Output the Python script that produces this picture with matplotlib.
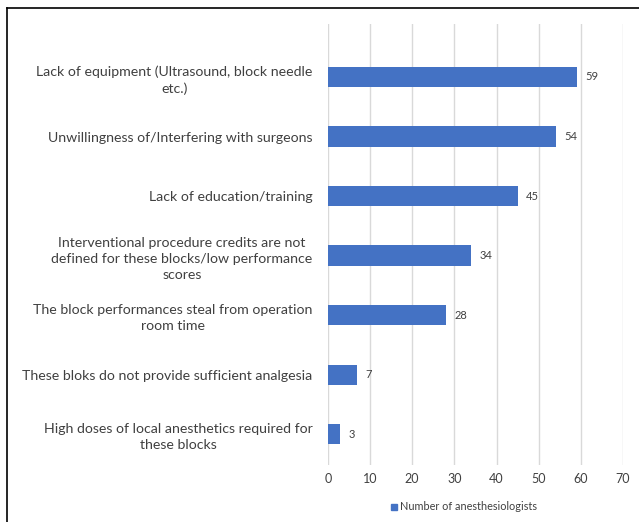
import matplotlib.pyplot as plt
from matplotlib.patches import Rectangle

# Barreras para el uso de bloqueos (número de anestesiólogos)
categories = [
    "Lack of equipment (Ultrasound, block needle\netc.)",
    "Unwillingness of/Interfering with surgeons",
    "Lack of education/training",
    "Interventional procedure credits are not\ndefined for these blocks/low performance\nscores",
    "The block performances steal from operation\nroom time",
    "These bloks do not provide sufficient analgesia",
    "High doses of local anesthetics required for\nthese blocks",
]
counts = [59, 54, 45, 34, 28, 7, 3]
xticks = [0, 10, 20, 30, 40, 50, 60, 70]

BAR = "#4472C4"
TXT = "#404040"
plt.rcParams['font.family'] = ['Lato', 'DejaVu Sans']

fig = plt.figure(figsize=(6.39, 5.22), dpi=100)
fig.patch.set_facecolor('white')
ax = fig.add_axes([0.513, 0.109, 0.462, 0.845])

ypos = list(range(len(categories)))
ax.barh(ypos, counts, height=0.34, color=BAR, zorder=3)

for y, v in zip(ypos, counts):
    ax.text(v + 2.0, y, str(v), va='center', ha='left', fontsize=8, color=TXT)

ax.set_xlim(0, 70)
ax.set_ylim(6.52, -0.89)
ax.set_xticks(xticks)
ax.set_xticklabels([str(t) for t in xticks], fontsize=9, color=TXT)
ax.set_yticks(ypos)
ax.set_yticklabels(categories, fontsize=10.2, color=TXT, ha='right')
for lab in ax.get_yticklabels():
    lab.set_multialignment('center')
    lab.set_linespacing(1.4)
ax.tick_params(axis='y', length=0, pad=11)
ax.tick_params(axis='x', length=0, pad=6)
ax.grid(axis='x', color='#D9D9D9', linewidth=1.0, zorder=0)
for s in ax.spines.values():
    s.set_visible(False)

# leyenda abajo
fig.patches.append(Rectangle((391 / 639, 1 - 510 / 522), 6 / 639, 6 / 522,
                             transform=fig.transFigure, color=BAR))
fig.text(400 / 639, 1 - 507 / 522, "Number of anesthesiologists",
         fontsize=7.8, color=TXT, va='center', ha='left')

# marco exterior
fig.add_artist(plt.Line2D([7 / 639, 7 / 639], [0, 1 - 8 / 522],
                          transform=fig.transFigure, color='black', lw=1.2))
fig.add_artist(plt.Line2D([7 / 639, 1], [1 - 8 / 522, 1 - 8 / 522],
                          transform=fig.transFigure, color='black', lw=1.2))

fig.savefig("out.png", dpi=100, facecolor='white')
